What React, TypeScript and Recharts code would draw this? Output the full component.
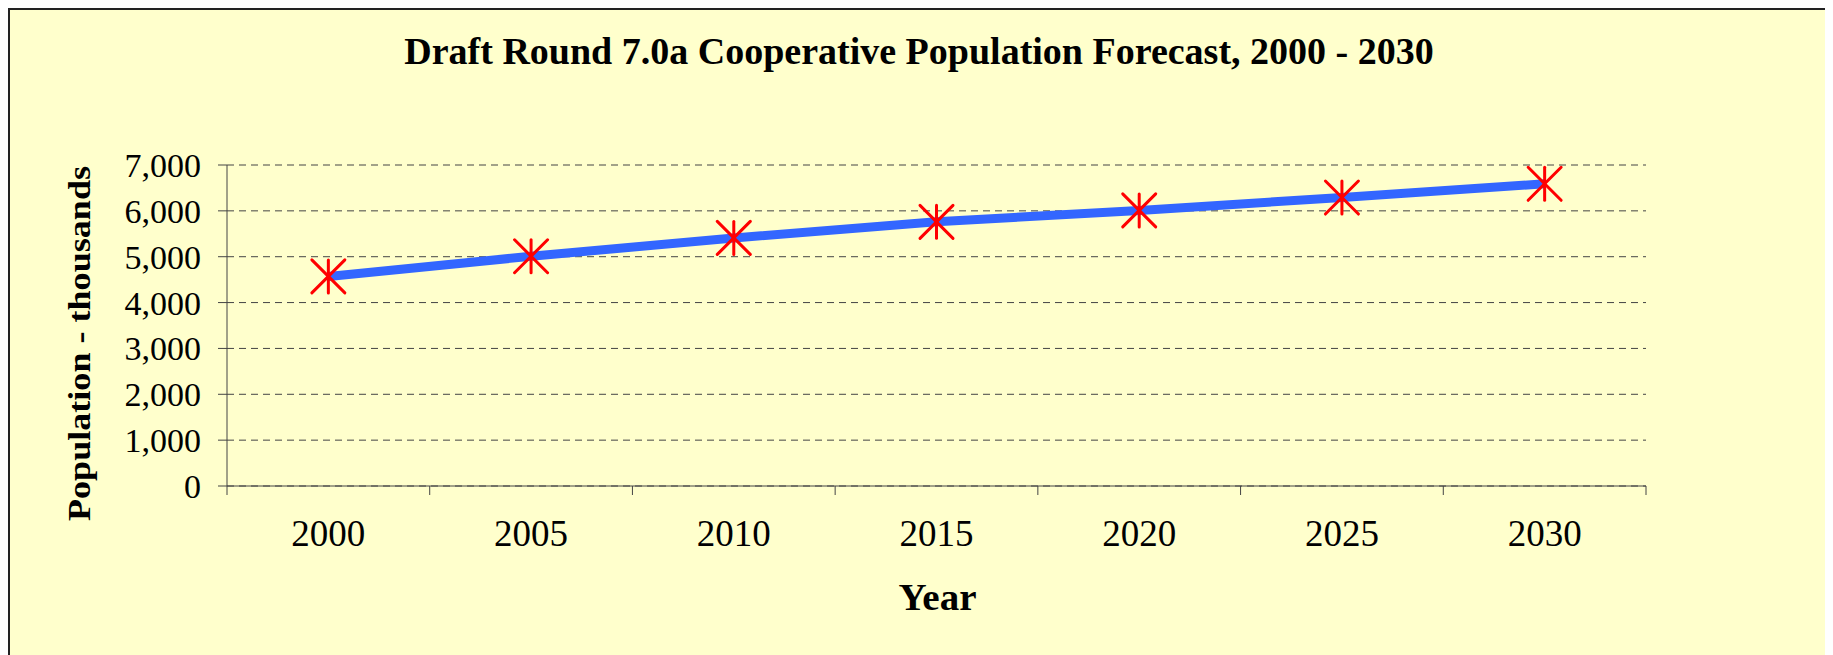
import { LineChart, Line, XAxis, YAxis, CartesianGrid, Label } from 'recharts';

const years = [2000, 2005, 2010, 2015, 2020, 2025, 2030];
const population = [4570, 5010, 5410, 5760, 6010, 6290, 6590];
const yTicks = [0, 1000, 2000, 3000, 4000, 5000, 6000, 7000];
// category boundaries, where the x-axis tick marks sit
const xEdges = [1997.5, 2002.5, 2007.5, 2012.5, 2017.5, 2022.5, 2027.5, 2032.5];

const data = years.map((year, i) => ({ year, pop: population[i] }));
const xTicks = [...xEdges, ...years].sort((a, b) => a - b);

const FONT = '"Liberation Serif", "Times New Roman", Times, serif';
const AXIS = '#444';

function XTick(props: any) {
  const { x, y, payload } = props;
  if (xEdges.includes(payload.value)) {
    return <line x1={x} y1={y - 9} x2={x} y2={y} stroke={AXIS} />;
  }
  return (
    <text x={x} y={y + 51} textAnchor="middle" fontFamily={FONT} fontSize={37} fill="#000">
      {payload.value}
    </text>
  );
}

function Asterisk(props: any) {
  const { cx, cy } = props;
  if (cx == null || cy == null) return null;
  const r = 16.5;
  return (
    <g stroke="#ff0000" strokeWidth={3} strokeLinecap="round">
      <line x1={cx} y1={cy - r} x2={cx} y2={cy + r} />
      <line x1={cx - r} y1={cy - r} x2={cx + r} y2={cy + r} />
      <line x1={cx + r} y1={cy - r} x2={cx - r} y2={cy + r} />
    </g>
  );
}

function YTitle(props: any) {
  const { viewBox } = props;
  const x = viewBox.x + 70;
  const y = viewBox.y + viewBox.height / 2 + 18;
  return (
    <text
      x={x}
      y={y}
      transform={`rotate(-90, ${x}, ${y})`}
      textAnchor="middle"
      fontFamily={FONT}
      fontWeight="bold"
      fontSize={32}
      textLength={355}
      lengthAdjust="spacingAndGlyphs"
      fill="#000"
    >
      Population - thousands
    </text>
  );
}

function XTitle(props: any) {
  const { viewBox } = props;
  return (
    <text
      x={viewBox.x + viewBox.width / 2 + 1}
      y={viewBox.y + 124}
      textAnchor="middle"
      fontFamily={FONT}
      fontWeight="bold"
      fontSize={37}
      textLength={78}
      lengthAdjust="spacingAndGlyphs"
      fill="#000"
    >
      Year
    </text>
  );
}

export default function App() {
  return (
    <div
      style={{
        position: 'relative',
        width: 1818,
        height: 645,
        background: '#ffffcc',
        borderTop: '2px solid #222',
        borderLeft: '2px solid #222',
        borderRight: '2px solid #222',
      }}
    >
      <style>{'html, body { overflow: hidden; }'}</style>
      <div
        style={{
          position: 'absolute',
          top: 22,
          left: 0,
          right: 0,
          textAlign: 'center',
          fontFamily: FONT,
          fontWeight: 'bold',
          fontSize: 38,
          lineHeight: '38px',
          color: '#000',
        }}
      >
        Draft Round 7.0a Cooperative Population Forecast, 2000 - 2030
      </div>
      <LineChart
        width={1818}
        height={645}
        data={data}
        margin={{ top: 155, right: 182, left: 10, bottom: 0 }}
      >
        <CartesianGrid vertical={false} stroke="#444" strokeDasharray="7 5" />
        <XAxis
          dataKey="year"
          type="number"
          domain={[1997.5, 2032.5]}
          ticks={xTicks}
          interval={0}
          height={169}
          tickLine={false}
          tickSize={9}
          tickMargin={0}
          axisLine={{ stroke: AXIS }}
          tick={<XTick />}
        >
          <Label content={<XTitle />} />
        </XAxis>
        <YAxis
          domain={[0, 7000]}
          ticks={yTicks}
          width={207}
          tickSize={9}
          tickMargin={17}
          axisLine={{ stroke: AXIS }}
          tickLine={{ stroke: AXIS }}
          tick={{ fontFamily: FONT, fontSize: 34, fill: '#000' }}
          tickFormatter={(v: number) => v.toLocaleString('en-US')}
        >
          <Label content={<YTitle />} />
        </YAxis>
        <Line
          dataKey="pop"
          type="linear"
          stroke="#3366ff"
          strokeWidth={9}
          dot={<Asterisk />}
          activeDot={false}
          isAnimationActive={false}
        />
      </LineChart>
    </div>
  );
}
